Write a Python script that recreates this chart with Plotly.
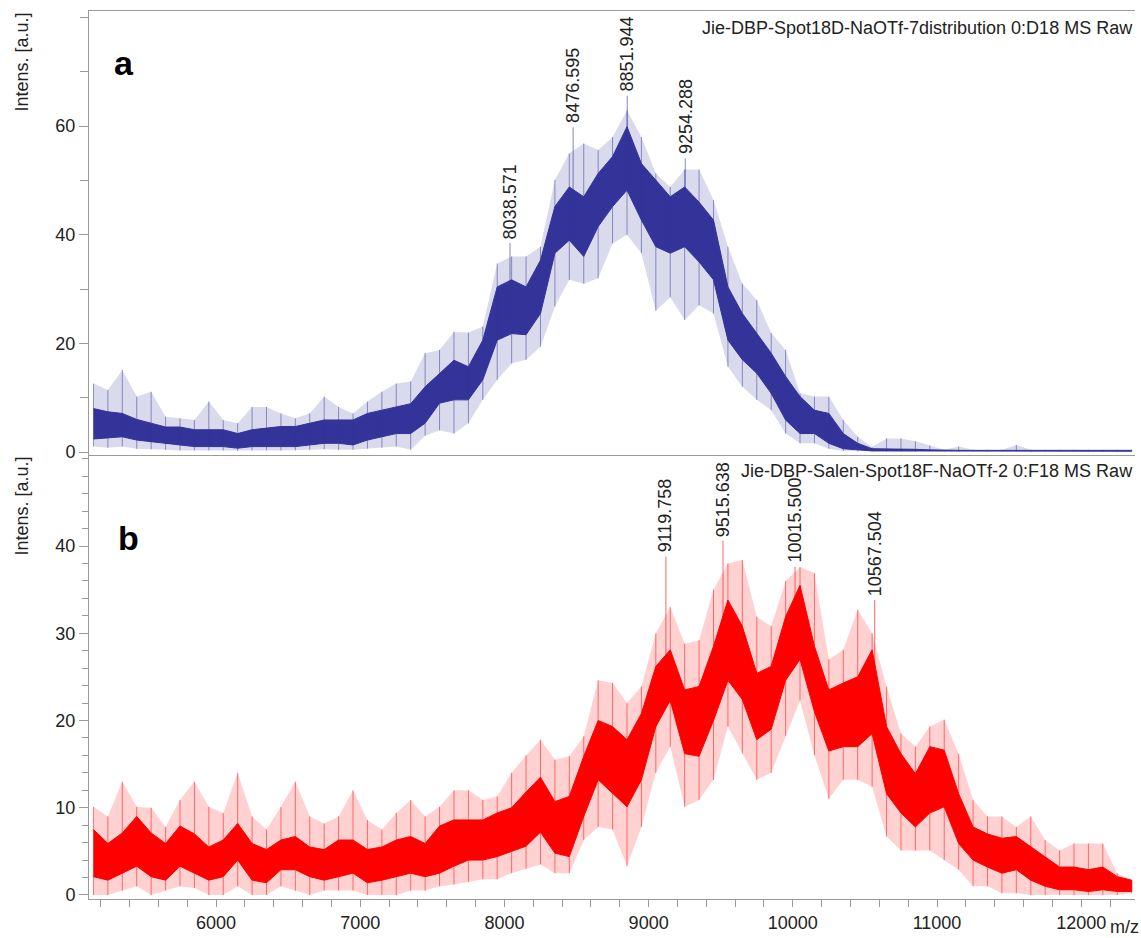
import plotly.graph_objects as go

# ---------------- data ----------------
MZ = [5150, 5250, 5350, 5450, 5550, 5650, 5750, 5850, 5950, 6050,
      6150, 6250, 6350, 6450, 6550, 6650, 6750, 6850, 6950, 7050,
      7150, 7250, 7350, 7450, 7550, 7650, 7750, 7850, 7950, 8050,
      8150, 8250, 8350, 8450, 8550, 8650, 8750, 8850, 8950, 9050,
      9150, 9250, 9350, 9450, 9550, 9650, 9750, 9850, 9950, 10050,
      10150, 10250, 10350, 10450, 10550, 10650, 10750, 10850, 10950, 11050,
      11150, 11250, 11350, 11450, 11550, 11650, 11750, 11850, 11950, 12050,
      12150, 12250, 12350]

# panel a: spike maxima, dense-band top, dense-band bottom, spike minima
A_TOP = [12.6, 11.4, 15.1, 10.2, 11.1, 6.5, 6.2, 5.9, 9.3, 5.9,
         5.3, 8.3, 8.3, 7.1, 6.2, 7.1, 10.2, 8.3, 7.1, 9.3,
         11.1, 12.6, 13.0, 18.2, 18.8, 22.1, 22.0, 23.1, 34.7, 36.0,
         36.0, 37.8, 50.1, 55.0, 56.8, 55.6, 58.0, 62.9, 58.0, 51.3,
         48.8, 52.0, 52.0, 46.4, 37.8, 31.0, 28.0, 21.9, 18.8, 10.8,
         10.2, 10.2, 5.9, 2.8, 0.9, 2.5, 2.5, 2.0, 1.2, 0.4,
         1.0, 0.4, 0.4, 0.4, 1.3, 0.4, 0.4, 0.4, 0.4, 0.4,
         0.4, 0.4, 0.4]
A_HI = [8.0, 7.4, 7.1, 6.0, 5.3, 4.6, 4.6, 4.1, 4.1, 4.1,
        3.4, 4.1, 4.4, 4.7, 4.7, 5.3, 5.9, 5.9, 5.9, 7.1,
        7.7, 8.3, 8.9, 12.0, 14.5, 16.9, 15.7, 20.6, 30.4, 31.7,
        30.4, 35.3, 45.2, 48.8, 47.0, 51.3, 54.4, 59.9, 53.1, 50.1,
        47.0, 48.8, 46.0, 42.7, 30.4, 25.5, 21.9, 18.2, 13.9, 10.2,
        7.7, 7.1, 3.4, 1.6, 0.6, 0.6, 0.5, 0.5, 0.4, 0.3,
        0.3, 0.3, 0.3, 0.3, 0.3, 0.3, 0.3, 0.3, 0.3, 0.3,
        0.3, 0.3, 0.3]
A_LO = [2.4, 2.6, 2.8, 2.2, 1.9, 1.6, 1.3, 1.0, 1.0, 1.0,
        0.7, 1.0, 1.0, 1.0, 1.0, 1.3, 1.6, 1.6, 1.3, 2.2,
        2.8, 3.4, 3.4, 5.3, 9.0, 9.6, 9.6, 13.3, 20.6, 21.8,
        21.6, 25.5, 36.6, 39.0, 36.0, 41.5, 45.2, 48.2, 42.7, 37.8,
        36.6, 37.8, 35.0, 31.7, 20.6, 17.0, 14.5, 10.8, 5.9, 3.4,
        3.4, 1.6, 0.6, 0.4, 0.2, 0.2, 0.2, 0.2, 0.2, 0.15,
        0.15, 0.15, 0.15, 0.15, 0.15, 0.15, 0.15, 0.15, 0.15, 0.15,
        0.15, 0.15, 0.15]
A_BOT = [1.0, 0.8, 1.0, 0.6, 0.5, 0.4, 0.3, 0.3, 0.3, 0.3,
         0.2, 0.3, 0.3, 0.3, 0.3, 0.4, 0.5, 0.4, 0.4, 0.6,
         0.8, 1.0, 0.4, 3.0, 4.0, 3.4, 5.3, 9.6, 13.3, 16.3,
         17.0, 19.4, 26.8, 31.7, 31.0, 32.0, 38.4, 40.0, 36.6, 26.0,
         28.5, 24.3, 27.0, 25.5, 15.7, 12.0, 9.6, 7.7, 3.4, 1.6,
         1.6, 0.6, 0.2, 0.1, 0.1, 0.1, 0.1, 0.1, 0.1, 0.1,
         0.1, 0.1, 0.1, 0.1, 0.1, 0.1, 0.1, 0.1, 0.1, 0.1,
         0.1, 0.1, 0.1]

# panel b
B_TOP = [10.1, 9.0, 13.0, 10.1, 10.0, 7.8, 10.9, 13.0, 10.1, 9.4,
         14.0, 9.0, 7.5, 10.1, 13.0, 9.0, 8.2, 9.0, 12.0, 8.6,
         7.5, 9.4, 10.9, 9.0, 10.1, 12.0, 12.0, 10.9, 11.3, 14.0,
         16.0, 17.8, 15.5, 15.9, 18.2, 24.6, 24.3, 22.0, 23.9, 30.0,
         33.0, 28.8, 29.2, 35.0, 38.0, 38.4, 31.9, 30.8, 36.0, 37.6,
         36.9, 27.0, 28.1, 32.7, 30.0, 23.9, 18.5, 17.0, 19.3, 20.1,
         16.2, 10.9, 9.0, 9.0, 7.8, 9.0, 6.3, 5.1, 5.9, 5.9,
         5.9, 2.5, 1.7]
B_HI = [7.5, 5.9, 7.1, 9.0, 7.1, 5.9, 7.9, 7.0, 5.5, 6.3,
        8.2, 5.9, 5.2, 6.3, 6.7, 5.5, 5.2, 6.3, 6.3, 5.2,
        5.5, 6.3, 6.7, 5.9, 7.9, 8.6, 8.6, 8.6, 9.4, 10.0,
        11.8, 13.5, 10.7, 11.3, 15.9, 20.0, 19.3, 17.8, 20.8, 26.2,
        28.1, 23.5, 23.9, 28.5, 33.8, 30.8, 25.4, 26.2, 31.9, 35.5,
        28.5, 23.5, 24.3, 25.0, 28.1, 19.3, 16.2, 13.9, 17.0, 16.6,
        11.6, 7.8, 7.0, 6.5, 6.7, 5.5, 4.4, 3.2, 3.2, 2.9,
        3.2, 2.1, 1.7]
B_LO = [2.1, 1.7, 2.5, 3.3, 2.1, 1.7, 3.3, 2.5, 1.7, 2.1,
        4.0, 1.7, 1.4, 2.9, 2.9, 2.1, 1.7, 2.1, 2.5, 1.4,
        1.7, 2.1, 2.5, 2.1, 2.5, 3.3, 4.0, 4.0, 4.4, 5.0,
        5.6, 7.2, 4.8, 4.4, 9.0, 13.2, 11.7, 10.1, 13.2, 19.3,
        22.3, 16.2, 15.9, 20.0, 24.6, 22.4, 17.8, 19.0, 24.6, 27.0,
        21.0, 16.5, 17.0, 17.0, 18.5, 11.6, 9.4, 7.8, 9.4, 10.1,
        5.9, 4.0, 3.2, 2.5, 2.9, 1.7, 1.0, 0.6, 0.6, 0.4,
        0.6, 0.4, 0.4]
B_BOT = [0.0, 0.0, 0.5, 1.0, 0.0, 0.5, 1.0, 0.8, 0.0, 0.0,
         1.0, 0.0, 0.0, 1.0, 0.5, 0.0, 0.5, 0.5, 0.5, 0.0,
         0.0, 0.0, 0.5, 0.5, 1.0, 1.2, 1.5, 1.8, 1.8, 2.5,
         3.0, 3.5, 2.5, 2.5, 6.3, 7.8, 7.5, 3.3, 7.8, 14.0,
         17.0, 10.1, 10.9, 13.2, 19.3, 16.2, 13.2, 14.0, 18.2, 22.3,
         16.0, 11.0, 13.2, 13.2, 12.4, 6.7, 5.1, 5.1, 5.1, 4.0,
         2.9, 1.0, 1.0, 0.2, 0.2, 0.0, 0.0, 0.0, 0.0, 0.0,
         0.0, 0.0, 0.2]

# labelled peaks
A_PEAK_MZ = [8038.571, 8476.595, 8851.944, 9254.288]
A_PEAK_INT = [38.5, 59.8, 65.6, 54.1]
A_PEAK_BASE = [24.0, 40.0, 48.0, 38.0]
B_PEAK_MZ = [9119.758, 9515.638, 10015.500, 10567.504]
B_PEAK_INT = [38.8, 40.6, 37.6, 33.8]
B_PEAK_BASE = [22.0, 25.0, 27.0, 19.0]

A_TITLE = "Jie-DBP-Spot18D-NaOTf-7distribution 0:D18 MS Raw"
B_TITLE = "Jie-DBP-Salen-Spot18F-NaOTf-2 0:F18 MS Raw"
X_TICKS = [6000, 7000, 8000, 9000, 10000, 11000, 12000]
A_YTICKS = [0, 20, 40, 60]
B_YTICKS = [0, 10, 20, 30, 40]

FONT = "Liberation Sans, Arial, sans-serif"
BLUE = "#333399"
RED = "#ff0000"
AX = "#9a9a9a"
TXT = "#222222"

fig = go.Figure()


def add_panel(xa, ya, top, hi, lo, bot, pk_mz, pk_int, pk_base, col, halo, stick):
    # light halo of the noise spikes (minima to maxima)
    fig.add_trace(go.Scatter(x=MZ + MZ[::-1], y=top + bot[::-1], fill="toself",
                             fillcolor=halo, mode="lines",
                             line=dict(color="rgba(0,0,0,0)", width=0),
                             xaxis=xa, yaxis=ya, hoverinfo="skip"))
    # dense band
    fig.add_trace(go.Scatter(x=MZ + MZ[::-1], y=hi + lo[::-1], fill="toself",
                             fillcolor=col, mode="lines",
                             line=dict(color=col, width=1),
                             xaxis=xa, yaxis=ya, hoverinfo="skip"))
    # spikes: vertical sticks from minima to maxima
    xs, ys = [], []
    for m, b, t in zip(MZ, bot, top):
        xs += [m, m, None]
        ys += [b, t, None]
    fig.add_trace(go.Scatter(x=xs, y=ys, mode="lines", connectgaps=False,
                             line=dict(color=stick, width=1),
                             xaxis=xa, yaxis=ya, hoverinfo="skip"))
    # labelled peaks
    px, py = [], []
    for m, t, b in zip(pk_mz, pk_int, pk_base):
        px += [m, m, None]
        py += [b, t, None]
    fig.add_trace(go.Scatter(x=px, y=py, mode="lines", connectgaps=False,
                             line=dict(color=stick, width=1.2),
                             xaxis=xa, yaxis=ya, hoverinfo="skip"))
    for m, t in zip(pk_mz, pk_int):
        fig.add_annotation(x=m, y=t, xref=xa, yref=ya, text=f"{m:.3f}",
                           textangle=-90, showarrow=False, xanchor="center",
                           yanchor="bottom", yshift=2,
                           font=dict(family=FONT, size=18, color=TXT))


add_panel("x", "y", A_TOP, A_HI, A_LO, A_BOT, A_PEAK_MZ, A_PEAK_INT, A_PEAK_BASE,
          BLUE, "rgba(51,51,153,0.18)", "rgba(51,51,153,0.5)")
add_panel("x2", "y2", B_TOP, B_HI, B_LO, B_BOT, B_PEAK_MZ, B_PEAK_INT, B_PEAK_BASE,
          RED, "rgba(255,0,0,0.18)", "rgba(255,0,0,0.5)")

xr = [5119, 12373]
common_y = dict(showline=True, linecolor=AX, linewidth=1, ticks="outside",
                tickcolor=AX, ticklen=9, showgrid=False, zeroline=False,
                tickfont=dict(family=FONT, size=18, color=TXT))

fig.update_layout(
    width=1141, height=938,
    margin=dict(l=89, r=6, t=11, b=39),
    paper_bgcolor="white", plot_bgcolor="white",
    showlegend=False, hovermode=False,
    xaxis=dict(domain=[0, 1], anchor="y", range=xr, showline=True, mirror=True,
               linecolor=AX, linewidth=1, ticks="", showticklabels=False,
               showgrid=False, zeroline=False),
    yaxis=dict(domain=[0.5, 1], anchor="x", range=[-0.55, 81.2],
               tickvals=A_YTICKS,
               minor=dict(dtick=10, tick0=0, ticks="outside", ticklen=8, tickcolor=AX),
               **common_y),
    xaxis2=dict(domain=[0, 1], anchor="y2", range=xr, showline=True,
                linecolor=AX, linewidth=1, ticks="outside", tickcolor=AX,
                ticklen=7, tickvals=X_TICKS, tickformat="d",
                minor=dict(dtick=200, tick0=0, ticks="outside", ticklen=7, tickcolor=AX),
                showgrid=False, zeroline=False,
                tickfont=dict(family=FONT, size=18, color=TXT)),
    yaxis2=dict(domain=[0, 0.5], anchor="x2", range=[-0.46, 50.43],
                tickvals=B_YTICKS,
                minor=dict(dtick=2, tick0=0, ticks="outside", ticklen=6, tickcolor=AX),
                **common_y),
)

ann_font = dict(family=FONT, size=18, color=TXT)
# y-axis titles
for ytop in [1.0, 0.5]:
    fig.add_annotation(x=-0.065, y=ytop, xref="paper", yref="paper",
                       text="Intens. [a.u.]", textangle=-90, showarrow=False,
                       xanchor="center", yanchor="top", font=ann_font)
# spectrum titles
fig.add_annotation(x=1.0, y=0.9813, xref="paper", yref="paper", text=A_TITLE,
                   showarrow=False, xanchor="right", yanchor="middle", font=ann_font)
fig.add_annotation(x=1.0, y=0.482, xref="paper", yref="paper", text=B_TITLE,
                   showarrow=False, xanchor="right", yanchor="middle", font=ann_font)
# panel letters
fig.add_annotation(x=0.0335, y=0.9414, xref="paper", yref="paper", text="<b>a</b>",
                   showarrow=False, xanchor="center", yanchor="middle",
                   font=dict(family=FONT, size=34, color="black"))
fig.add_annotation(x=0.038, y=0.4065, xref="paper", yref="paper", text="<b>b</b>",
                   showarrow=False, xanchor="center", yanchor="middle",
                   font=dict(family=FONT, size=34, color="black"))
# m/z label
fig.add_annotation(x=0.9895, y=-0.0315, xref="paper", yref="paper", text="m/z",
                   showarrow=False, xanchor="center", yanchor="middle", font=ann_font)

fig.write_html("out.html", config={"displayModeBar": False},
               post_script="document.body.style.margin='0';document.body.style.overflow='hidden';")
